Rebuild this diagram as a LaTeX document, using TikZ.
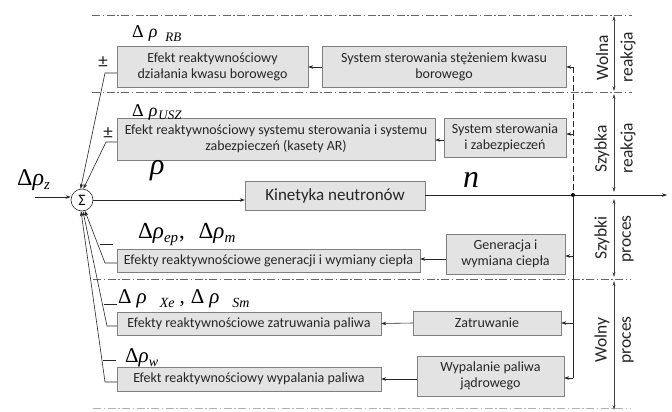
\documentclass[tikz,border=0pt]{standalone}
\usepackage{fontspec}
\setmainfont{Carlito}
\newfontfamily\tms{Liberation Serif}
\usetikzlibrary{arrows.meta}
\newcommand\mysub[2]{\raisebox{-0.45ex}{\fontsize{#1}{#1}\selectfont\itshape #2}}
\begin{document}
\begin{tikzpicture}[x=1pt,y=-1pt,
 box/.style={draw=black!50, fill=black!11, align=center, inner sep=1pt, text=black!85, font=\fontsize{14}{16}\selectfont},
 lin/.style={draw=black!85, line width=0.6pt},
 arr/.style={lin, -{Stealth[length=5pt,width=3.5pt]}},
 dd/.style={draw=black!60, line width=0.6pt, dash pattern=on 8pt off 2.5pt on 1.5pt off 2.5pt},
 side/.style={rotate=90, font=\fontsize{17.5}{19}\selectfont, inner sep=0pt, text=black!85},
 dr/.style={font=\tms\fontsize{#1}{#1}\selectfont, inner sep=0pt, anchor=base west},
 dbl/.style={draw=black!75, line width=0.5pt, {Stealth[length=5pt,width=3pt]}-{Stealth[length=5pt,width=3pt]}},
 sgn/.style={inner sep=0pt, font=\fontsize{19}{19}\selectfont, text=black!85},
 ]
\useasboundingbox (0,0) rectangle (672,412);
% dash-dot separators
\draw[dd] (92,15) -- (632,15);
\draw[dd] (92,92) -- (632,92);
\draw[dd] (93,279) -- (630,279);
\draw[dd, draw=black!30] (93,408) -- (630,408);
% boxes
\node[box, minimum width=191pt, minimum height=41pt] (b1) at (212.5,66.5) {Efekt reaktywnościowy\\działania kwasu borowego};
\node[box, minimum width=244pt, minimum height=41pt] (b2) at (444,66.5) {System sterowania stężeniem kwasu\\borowego};
\node[box, minimum width=318pt, minimum height=42pt] (b3) at (276,139) {Efekt reaktywnościowy systemu sterowania i systemu\\zabezpieczeń (kasety AR)};
\node[box, minimum width=122pt, minimum height=39pt] (b4) at (505,137.5) {System sterowania\\i zabezpieczeń};
\node[box, minimum width=180pt, minimum height=29pt, font=\fontsize{17}{19}\selectfont] (kin) at (335,195.5) {Kinetyka neutronów};
\node[box, minimum width=303pt, minimum height=23pt] (b6) at (268.5,261) {Efekty reaktywnościowe generacji i wymiany ciepła};
\node[box, minimum width=119pt, minimum height=40pt] (b7) at (505.5,254) {Generacja i\\wymiana ciepła};
\node[box, minimum width=264pt, minimum height=23pt] (b8) at (249,323.5) {Efekty reaktywnościowe zatruwania paliwa};
\node[box, minimum width=148pt, minimum height=24pt] (b9) at (487,323) {Zatruwanie};
\node[box, minimum width=264pt, minimum height=24pt] (b10) at (249,379) {Efekt reaktywnościowy wypalania paliwa};
\node[box, minimum width=147pt, minimum height=40pt] (b11) at (490.5,376) {Wypalanie paliwa\\jądrowego};
% summing junction
\node[draw=black!85, line width=0.6pt, circle, minimum size=22pt, inner sep=0pt, font=\fontsize{16}{16}\selectfont] (sum) at (82,200) {Σ};
% main line
\coordinate (zin) at (35,197);
\coordinate (dot) at (573,195);
\coordinate (out) at (667,195);
\draw[arr] (zin) -- (zin -| sum.west);
\draw[arr] (sum.east) -- (sum.east -| kin.west);
\draw[lin] (kin.east |- dot) -- (dot);
\draw[arr] (dot) -- (out);
\fill (dot) circle (2pt);
% feedback distribution
\coordinate (vt) at (573,67);
\draw[lin, dashed, dash pattern=on 6pt off 3pt] (vt) -- (dot);
\draw[arr] (vt) -- (b2.east |- vt);
\draw[arr] (573,134) -- (b4.east |- 0,134);
\draw[lin] (dot) -- (573,378);
\draw[arr] (573,256) -- (b7.east |- 0,256);
\draw[arr] (573,323) -- (b9.east |- 0,323);
\draw[arr] (573,378) -- (b11.east |- 0,378);
% forward arrows between boxes
\draw[arr] (b2.west |- 0,67) -- (b1.east |- 0,67);
\draw[arr] (b4.west |- 0,140) -- (b3.east |- 0,140);
\draw[arr] (b7.west |- 0,259) -- (b6.east |- 0,259);
\draw[arr] (b9.west) -- (b8.east);
\draw[arr] (b11.west |- 0,379) -- (b10.east |- 0,379);
% feedback into sum
\draw[arr] (b1.west |- 0,73) -- (105,73) -- (sum.97);
\draw[arr] (b3.west |- 0,142) -- (106,142) -- (sum.83);
\draw[arr] (b6.west |- 0,263) -- (105,263) -- (sum.-75);
\draw[arr] (b8.west |- 0,326) -- (107,326) -- (sum.-85);
\draw[arr] (b10.west |- 0,382) -- (105,382) -- (sum.-95);
% signs
\node[sgn] (s1) at (103,62) {±};
\node[sgn] (s2) at (108,133) {±};
\draw[lin, line width=1pt] (100,244) -- (113,244);
\draw[lin, line width=1pt] (104,304) -- (117,304);
\draw[lin, line width=1pt] (103,360) -- (116,360);
% labels
\node[dr=18] (lrb) at (132,38) {Δ\hspace{5pt}\textit{ρ}\hspace{8pt}\mysub{13}{RB}};
\node[dr=18] (lusz) at (132,116) {Δ\hspace{5pt}\textit{ρ}\hspace{1pt}\mysub{13}{USZ}};
\node[dr=24] (lz) at (17,185) {Δ\textit{ρ}\mysub{15}{z}};
\node[dr=30] (lrho) at (150,174) {\textit{ρ}};
\node[dr=32] (ln) at (463,187) {\textit{n}};
\node[dr=23] (lep) at (138,238) {Δ\textit{ρ}\mysub{15}{ep}\hspace{1pt}, \hspace{8pt}Δ\textit{ρ}\mysub{15}{m}};
\node[dr=21] (lxe) at (118,303) {Δ\hspace{5pt}\textit{ρ}\hspace{13pt}\mysub{14}{Xe}\hspace{5pt},\hspace{6pt}Δ\hspace{5pt}\textit{ρ}\hspace{13pt}\mysub{14}{Sm}};
\node[dr=21] (lw) at (125,362) {Δ\textit{ρ}\mysub{14}{w}};
% side arrows and labels
\draw[dbl] (614,16) -- (614,91);
\draw[dbl] (614,94) -- (614,192);
\draw[dbl] (614,199) -- (614,277);
\draw[dbl] (614,281) -- (614,410);
\node[side] (w1) at (602,58) {Wolna};
\node[side] (w2) at (628,57) {reakcja};
\node[side] (s1l) at (602,149) {Szybka};
\node[side] (s2l) at (628,148) {reakcja};
\node[side] (p1) at (602,238) {Szybki};
\node[side] (p2) at (628,239) {proces};
\node[side] (q1) at (602,340) {Wolny};
\node[side] (q2) at (628,340) {proces};
\end{tikzpicture}
\end{document}
